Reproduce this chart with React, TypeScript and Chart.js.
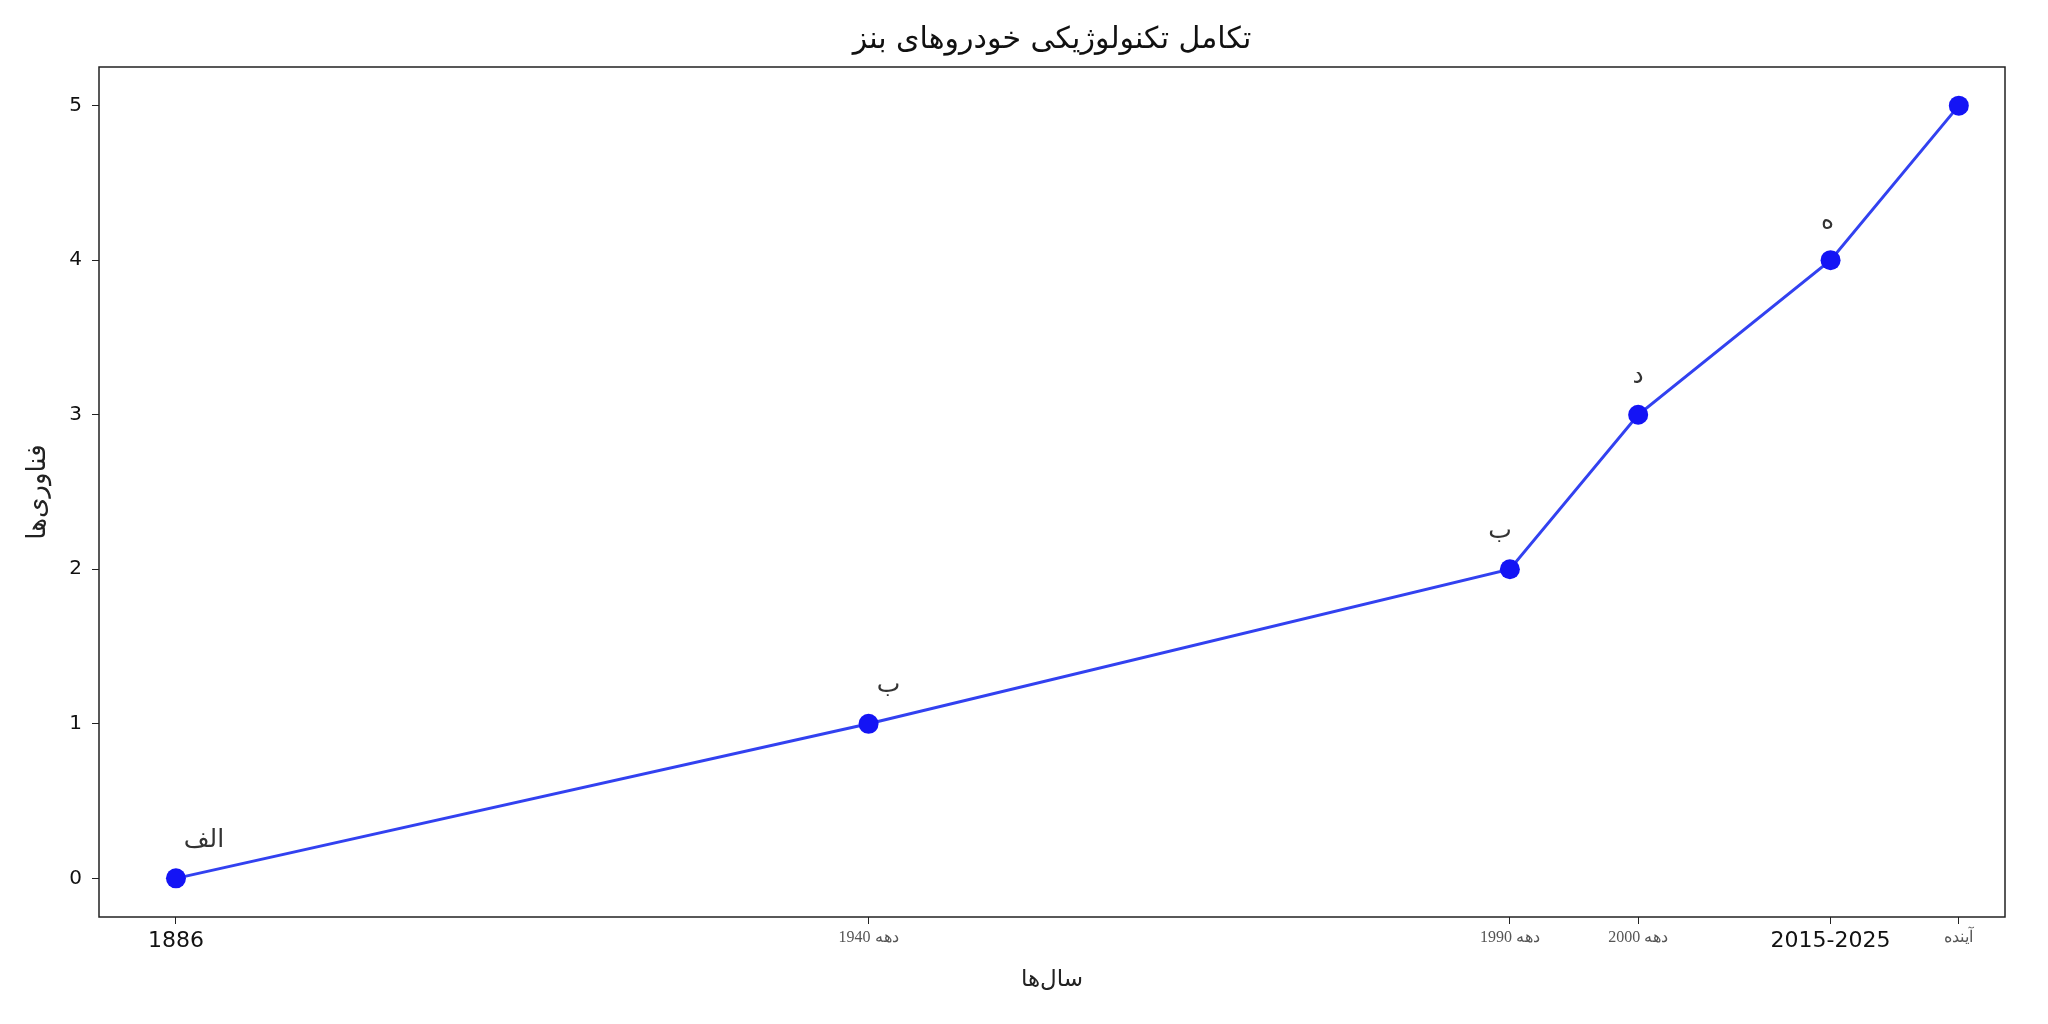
import React, { useEffect, useRef } from "react";
import { Chart, registerables } from "chart.js";

Chart.register(...registerables);

const years = [1886, 1940, 1990, 2000, 2015, 2025];
const techLevels = [0, 1, 2, 3, 4, 5];
const xTickLabels = ["1886", "1940 دهه", "1990 دهه", "2000 دهه", "2015-2025", "آینده"];
const pointLabels = ["الف", "ب", "ب", "د", "ه", ""];
const yTickValues = [0, 1, 2, 3, 4, 5];
const chartTitle = "تکامل تکنولوژیکی خودروهای بنز";
const xAxisTitle = "سال‌ها";
const yAxisTitle = "فناوری‌ها";

const FONT = "'DejaVu Sans', sans-serif";
const bigTickIdx = [0, 4];
// label horizontal nudges (styling only)
const labelNudgeX = [28, 20, -10, 0, -3, 0];

const framePlugin = {
  id: "frame",
  afterDraw(chart: any) {
    const { ctx, chartArea } = chart;
    ctx.save();
    ctx.strokeStyle = "#222";
    ctx.lineWidth = 1.5;
    ctx.strokeRect(chartArea.left, chartArea.top, chartArea.right - chartArea.left, chartArea.bottom - chartArea.top);
    ctx.restore();
  },
};

const pointLabelPlugin = {
  id: "pointLabels",
  afterDatasetsDraw(chart: any) {
    const { ctx } = chart;
    const meta = chart.getDatasetMeta(0);
    ctx.save();
    ctx.font = `25px ${FONT}`;
    ctx.fillStyle = "#333";
    ctx.textAlign = "center";
    ctx.textBaseline = "middle";
    meta.data.forEach((el: any, i: number) => {
      const t = pointLabels[i];
      if (!t) return;
      ctx.fillText(t, el.x + labelNudgeX[i], el.y - 38);
    });
    ctx.restore();
  },
};

export default function App() {
  const ref = useRef<HTMLCanvasElement | null>(null);
  useEffect(() => {
    document.body.style.margin = "0";
    const canvas = ref.current!;
    const chart = new Chart(canvas, {
      type: "line",
      data: {
        datasets: [
          {
            data: years.map((x, i) => ({ x, y: techLevels[i] })),
            borderColor: "rgba(28, 44, 238, 0.9)",
            borderWidth: 3,
            pointBackgroundColor: "#1414f5",
            pointBorderColor: "#1414f5",
            pointBorderWidth: 0,
            pointRadius: 10,
            tension: 0,
            fill: false,
          },
        ],
      },
      options: {
        responsive: false,
        animation: false,
        devicePixelRatio: 1,
        layout: { padding: { left: 0, right: 43, top: 0, bottom: 0 } },
        plugins: {
          legend: { display: false },
          tooltip: { enabled: false },
          title: {
            display: true,
            text: chartTitle,
            fullSize: false,
            color: "#111",
            font: { family: FONT, size: 30, weight: "normal" },
            padding: { top: 22, bottom: 9 },
          },
        },
        scales: {
          x: {
            type: "linear",
            min: 1880,
            max: 2028.6,
            border: { display: false },
            grid: { display: true, drawOnChartArea: false, drawTicks: true, tickLength: 7, color: "#222" },
            afterBuildTicks: (scale: any) => {
              scale.ticks = years.map((v) => ({ value: v }));
            },
            afterFit: (scale: any) => {
              scale.height = 107;
            },
            ticks: {
              autoSkip: false,
              maxRotation: 0,
              padding: 4,
              callback: (_v: any, i: number) => xTickLabels[i],
              color: (ctx: any) => (bigTickIdx.includes(ctx.index) ? "#111" : "#555"),
              font: (ctx: any) =>
                bigTickIdx.includes(ctx.index)
                  ? { family: FONT, size: 22 }
                  : { family: "'Liberation Serif', serif", size: 16 },
            },
            title: {
              display: true,
              text: xAxisTitle,
              color: "#222",
              font: { family: FONT, size: 23 },
              padding: { top: 4, bottom: 30 },
            },
          },
          y: {
            type: "linear",
            min: -0.25,
            max: 5.25,
            border: { display: false },
            grid: { display: true, drawOnChartArea: false, drawTicks: true, tickLength: 7, color: "#222" },
            afterBuildTicks: (scale: any) => {
              scale.ticks = yTickValues.map((v) => ({ value: v }));
            },
            afterFit: (scale: any) => {
              scale.width = 99;
            },
            ticks: {
              padding: 10,
              color: "#111",
              font: { family: FONT, size: 20 },
              callback: (v: any) => String(v),
            },
            title: {
              display: true,
              text: yAxisTitle,
              color: "#222",
              font: { family: FONT, size: 26 },
              padding: { top: 23, bottom: 0 },
            },
          },
        },
      },
      plugins: [framePlugin, pointLabelPlugin],
    });
    return () => chart.destroy();
  }, []);
  return (
    <div style={{ width: 2048, height: 1024, background: "#fff" }}>
      <canvas ref={ref} width={2048} height={1024} style={{ display: "block" }} />
    </div>
  );
}
